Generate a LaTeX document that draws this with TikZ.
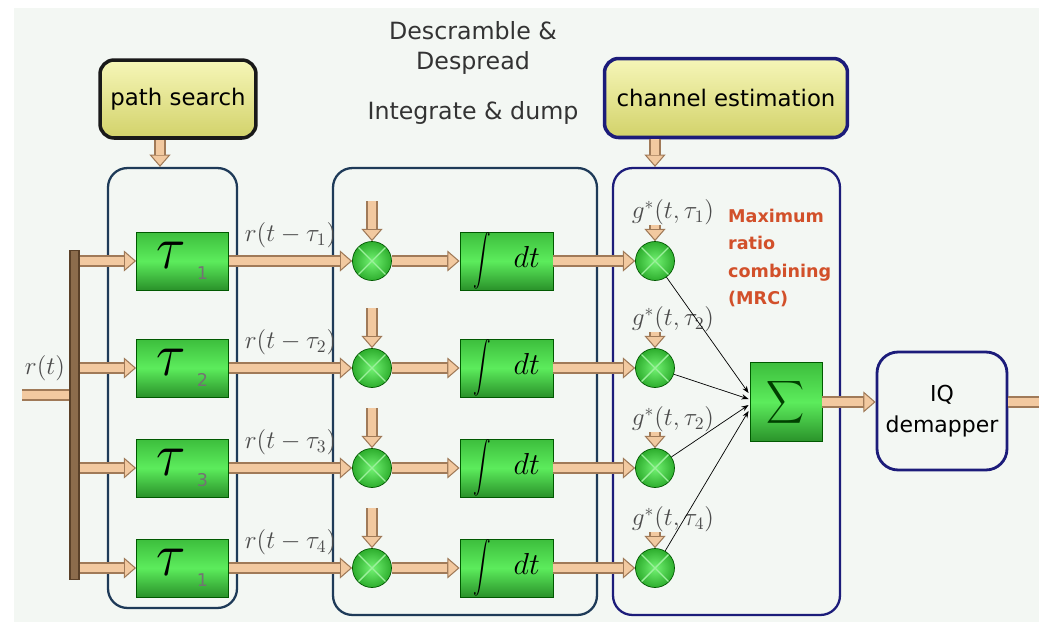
\documentclass[tikz,border=0pt]{standalone}
\usepackage[no-math]{fontspec}
\setmainfont{DejaVu Sans}
\usepackage{graphicx}
\usetikzlibrary{arrows.meta,calc,positioning}

\definecolor{bgcol}{HTML}{F3F7F3}
\definecolor{pipefill}{HTML}{F2C9A0}
\definecolor{pipeedge}{HTML}{A07A58}
\definecolor{busfill}{HTML}{8C6C4C}
\definecolor{busedge}{HTML}{5A4028}
\definecolor{gtop}{HTML}{3DBE3D}
\definecolor{gmid}{HTML}{5CEC5C}
\definecolor{gbot}{HTML}{2A922A}
\definecolor{gin}{HTML}{72F272}
\definecolor{gout}{HTML}{2EAE2E}
\definecolor{xline}{HTML}{9CF09C}
\definecolor{ytop}{HTML}{F6F6B8}
\definecolor{ymid}{HTML}{EDED98}
\definecolor{ybot}{HTML}{D2D26A}
\definecolor{navyA}{HTML}{1E3A58}
\definecolor{navyB}{HTML}{1C1C7A}
\definecolor{mrcred}{HTML}{D2502A}

\tikzset{
  pipe/.style={draw=pipeedge, line width=7pt,
    -{Triangle[length=7pt,width=12pt,fill=pipefill,line width=0.6pt]},
    postaction={draw=pipefill, line width=4.8pt, -, shorten >=7pt}},
  pipeplain/.style={draw=pipeedge, line width=7pt,
    postaction={draw=pipefill, line width=4.8pt}},
  greenbox/.style={draw=green!35!black, line width=0.5pt, top color=gtop,
    bottom color=gbot, middle color=gmid, minimum width=1.84cm,
    minimum height=1.16cm, inner sep=0pt},
  mult/.style={circle, draw=green!35!black, line width=0.4pt, inner color=gin,
    outer color=gout, minimum size=0.78cm, inner sep=0pt,
    path picture={\draw[xline, line width=0.8pt]
      (path picture bounding box.north west) -- (path picture bounding box.south east)
      (path picture bounding box.north east) -- (path picture bounding box.south west);}},
  group/.style={draw=navyA, line width=1.3pt, rounded corners=11pt, inner sep=0pt},
  yellowbox/.style={rounded corners=8pt, line width=2pt, top color=ytop,
    middle color=ymid, bottom color=ybot, inner sep=0pt,
    font=\fontsize{13}{15}\selectfont},
  lbl/.style={inner sep=1pt, text=black!70, font=\fontsize{14}{16}\selectfont},
  title/.style={align=center, text=black!80, font=\fontsize{13.5}{17}\selectfont},
  thinarr/.style={draw=black, line width=0.4pt, -{Stealth[length=4pt,width=3pt]}},
}

\begin{document}
\begin{tikzpicture}[x=0.02cm, y=-0.02cm]
    \useasboundingbox (0,0) rectangle (1039,622);
    \fill[white] (0,0) rectangle (1039,622);
    \fill[bgcol] (14,8) rectangle (1039,622);
    % Control blocks.
    \node[yellowbox, draw=black!90, minimum width=3.12cm, minimum height=1.56cm] (ps) at (178,99) {path search};
    \node[yellowbox, draw=navyB, minimum width=4.86cm, minimum height=1.58cm] (ce) at (726,98) {channel estimation};
    \node[title] (ttl1) at (473,48) {Descramble \&\\Despread};
    \node[title] (ttl2) at (473,113) {Integrate \& dump};
    % Group frames.
    \node[group, minimum width=2.58cm, minimum height=8.8cm] (lb) at (172.5,388) {};
    \node[group, minimum width=5.28cm, minimum height=8.94cm] (mb) at (465,391.5) {};
    \node[group, draw=navyB, minimum width=4.54cm, minimum height=8.94cm] (rb) at (726.5,391.5) {};
    % Input bus.
    \node[draw=busedge, fill=busfill, line width=0.6pt, minimum width=0.18cm, minimum height=6.6cm, inner sep=0pt] (bus) at (74.5,415) {};
    \coordinate (rin) at (22,395);
    \draw[pipeplain] (rin) -- (rin -| bus.west);
    \node[lbl] (rt) at (45,368) {$r(t)$};
    % Fingers.
    \foreach \i/\y/\s/\k in {1/261/1/1, 2/368/2/2, 3/468/3/2, 4/568/1/4} {
      \node[greenbox] (tau\i) at (182.5,\y) {\scalebox{1.25}[1.4]{\Huge$\tau$}\hspace{6pt}\raisebox{-6pt}{\fontsize{10}{10}\selectfont\color{black!55}\s}};
      \node[mult] (m\i) at (372,\y) {};
      \node[greenbox, minimum width=1.86cm] (int\i) at (506.5,\y) {\scalebox{1}[1.45]{$\displaystyle\int$}\hspace{13pt}\LARGE$dt$\hspace{8pt}};
      \node[mult] (rm\i) at (655,\y) {};
      \coordinate (mtop\i) at (372,{\y-60});
      \coordinate (rtop\i) at (655,{\y-36});
      \node[lbl] (g\i) at (673,{\y-49}) {$g^{*}(t,\tau_{\k})$};
    }
    \node[greenbox, minimum width=1.44cm, minimum height=1.58cm] (sig) at (786,402) {\color{black!75!green}\scalebox{1.5}[1.7]{$\displaystyle\sum$}};
    \node[rounded corners=12pt, draw=navyB, line width=1.6pt, fill=bgcol, align=center, minimum width=2.6cm, minimum height=2.36cm, font=\fontsize{12.5}{17.5}\selectfont] (iq) at (942,411) {IQ\\demapper};
    \node[anchor=west, align=left, text=mrcred, font=\bfseries\fontsize{10}{15.5}\selectfont] (mrc) at (722,258) {Maximum\\ratio\\combining\\(MRC)};
    % Connections.
    \draw[pipe] ($(ps.south)+(-18,0)$) -- ($(lb.north)+(-12.5,0)$);
    \draw[pipe] (rm1 |- ce.south) -- (rm1 |- rb.north);
    \foreach \i in {1,...,4} {
      \draw[pipe] (tau\i.west -| bus.east) -- (tau\i.west);
      \draw[pipe] (tau\i) -- (m\i) node[midway, above=3pt, lbl] {$r(t-\tau_{\i})$};
      \draw[pipe] (mtop\i) -- (m\i.north);
      \draw[pipe] (m\i) -- (int\i);
      \draw[pipe] (int\i) -- (rm\i);
      \draw[pipe] (rtop\i) -- (rm\i.north);
      \draw[thinarr] (rm\i) -- ($(sig.west)+(-1,{(\i-2.5)*6})$);
    }
    \draw[pipe] (sig) -- (sig -| iq.west);
    \coordinate (out) at (1039,402);
    \draw[pipeplain] (sig -| iq.east) -- (out);
\end{tikzpicture}
\end{document}
